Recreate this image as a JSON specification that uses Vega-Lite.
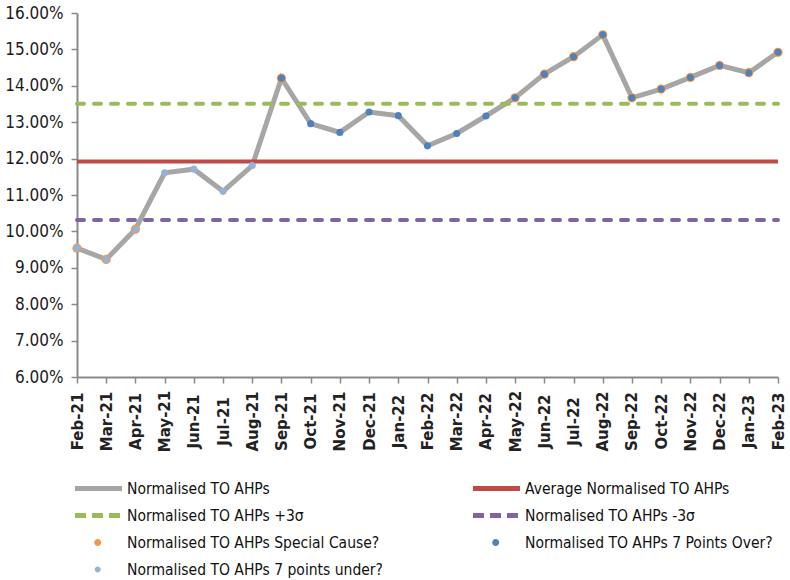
{
  "$schema": "https://vega.github.io/schema/vega-lite/v6.json",
  "width": 701,
  "height": 364,
  "autosize": {"type": "none"},
  "padding": {"left": 77, "top": 13, "right": 12, "bottom": 203},
  "background": "white",
  "config": {"view": {"stroke": null}, "axisY": {"labelOverlap": false, "labelBound": false}},
  "data": {
    "values": [
      {"month": "Feb-21", "value": 0.0954, "avg": 0.1192, "ucl": 0.1351, "lcl": 0.1031, "special": true, "over": false, "under": true},
      {"month": "Mar-21", "value": 0.0923, "avg": 0.1192, "ucl": 0.1351, "lcl": 0.1031, "special": true, "over": false, "under": true},
      {"month": "Apr-21", "value": 0.1006, "avg": 0.1192, "ucl": 0.1351, "lcl": 0.1031, "special": true, "over": false, "under": true},
      {"month": "May-21", "value": 0.1161, "avg": 0.1192, "ucl": 0.1351, "lcl": 0.1031, "special": false, "over": false, "under": true},
      {"month": "Jun-21", "value": 0.1171, "avg": 0.1192, "ucl": 0.1351, "lcl": 0.1031, "special": false, "over": false, "under": true},
      {"month": "Jul-21", "value": 0.1110, "avg": 0.1192, "ucl": 0.1351, "lcl": 0.1031, "special": false, "over": false, "under": true},
      {"month": "Aug-21", "value": 0.1181, "avg": 0.1192, "ucl": 0.1351, "lcl": 0.1031, "special": false, "over": false, "under": true},
      {"month": "Sep-21", "value": 0.1421, "avg": 0.1192, "ucl": 0.1351, "lcl": 0.1031, "special": true, "over": true, "under": false},
      {"month": "Oct-21", "value": 0.1296, "avg": 0.1192, "ucl": 0.1351, "lcl": 0.1031, "special": false, "over": true, "under": false},
      {"month": "Nov-21", "value": 0.1272, "avg": 0.1192, "ucl": 0.1351, "lcl": 0.1031, "special": false, "over": true, "under": false},
      {"month": "Dec-21", "value": 0.1328, "avg": 0.1192, "ucl": 0.1351, "lcl": 0.1031, "special": false, "over": true, "under": false},
      {"month": "Jan-22", "value": 0.1318, "avg": 0.1192, "ucl": 0.1351, "lcl": 0.1031, "special": false, "over": true, "under": false},
      {"month": "Feb-22", "value": 0.1235, "avg": 0.1192, "ucl": 0.1351, "lcl": 0.1031, "special": false, "over": true, "under": false},
      {"month": "Mar-22", "value": 0.1269, "avg": 0.1192, "ucl": 0.1351, "lcl": 0.1031, "special": false, "over": true, "under": false},
      {"month": "Apr-22", "value": 0.1317, "avg": 0.1192, "ucl": 0.1351, "lcl": 0.1031, "special": false, "over": true, "under": false},
      {"month": "May-22", "value": 0.1367, "avg": 0.1192, "ucl": 0.1351, "lcl": 0.1031, "special": true, "over": true, "under": false},
      {"month": "Jun-22", "value": 0.1432, "avg": 0.1192, "ucl": 0.1351, "lcl": 0.1031, "special": true, "over": true, "under": false},
      {"month": "Jul-22", "value": 0.1480, "avg": 0.1192, "ucl": 0.1351, "lcl": 0.1031, "special": true, "over": true, "under": false},
      {"month": "Aug-22", "value": 0.1540, "avg": 0.1192, "ucl": 0.1351, "lcl": 0.1031, "special": true, "over": true, "under": false},
      {"month": "Sep-22", "value": 0.1367, "avg": 0.1192, "ucl": 0.1351, "lcl": 0.1031, "special": true, "over": true, "under": false},
      {"month": "Oct-22", "value": 0.1391, "avg": 0.1192, "ucl": 0.1351, "lcl": 0.1031, "special": true, "over": true, "under": false},
      {"month": "Nov-22", "value": 0.1423, "avg": 0.1192, "ucl": 0.1351, "lcl": 0.1031, "special": true, "over": true, "under": false},
      {"month": "Dec-22", "value": 0.1456, "avg": 0.1192, "ucl": 0.1351, "lcl": 0.1031, "special": true, "over": true, "under": false},
      {"month": "Jan-23", "value": 0.1436, "avg": 0.1192, "ucl": 0.1351, "lcl": 0.1031, "special": true, "over": true, "under": false},
      {"month": "Feb-23", "value": 0.1492, "avg": 0.1192, "ucl": 0.1351, "lcl": 0.1031, "special": true, "over": true, "under": false}
    ]
  },
  "encoding": {
    "x": {
      "field": "month",
      "type": "ordinal",
      "sort": null,
      "scale": {"type": "point", "padding": 0},
      "axis": {
        "title": null,
        "labelAngle": 270,
        "labelAlign": "center",
        "labelBaseline": "middle",
        "labelPadding": 38,
        "labelDx": 1,
        "labelFont": "DejaVu Sans",
        "labelFontWeight": "bold",
        "labelFontSize": 15,
        "labelColor": "#222222",
        "domainColor": "#898989",
        "domainWidth": 2,
        "tickColor": "#898989",
        "tickWidth": 1.5,
        "tickSize": 6,
        "grid": false
      }
    }
  },
  "layer": [
    {
      "mark": {"type": "line", "strokeWidth": 5, "strokeJoin": "miter"},
      "encoding": {
        "y": {
          "field": "value",
          "type": "quantitative",
          "title": null,
          "scale": {"domain": [0.06, 0.16], "nice": false, "zero": false},
          "axis": {
            "title": null,
            "tickCount": 10,
            "format": ".2%",
            "labelOverlap": false,
            "labelSeparation": 0,
            "labelFont": "DejaVu Sans Condensed, Liberation Sans, sans-serif",
            "labelFontSize": 17,
            "labelColor": "#1a1a1a",
            "labelPadding": 8,
            "domainColor": "#898989",
            "domainWidth": 2,
            "tickColor": "#898989",
            "tickWidth": 1.5,
            "tickSize": 6,
            "grid": false
          }
        },
        "color": {
          "datum": "Normalised TO AHPs",
          "scale": {
            "domain": [
              "Normalised TO AHPs",
              "Normalised TO AHPs +3σ",
              "Normalised TO AHPs Special Cause?",
              "Normalised TO AHPs 7 points under?",
              "Average Normalised TO AHPs",
              "Normalised TO AHPs -3σ",
              "Normalised TO AHPs 7 Points Over?"
            ],
            "range": ["#A6A6A6", "#9BBB59", "#F79646", "#95B3D7", "#BE4B48", "#8064A2", "#4F81BD"]
          },
          "legend": {
            "title": null,
            "orient": "none",
            "legendX": -2,
            "legendY": 462,
            "columns": 2,
            "padding": 0,
            "rowPadding": 5,
            "columnPadding": 90,
            "symbolSize": 729,
            "symbolStrokeWidth": 0,
            "labelOffset": 25,
            "labelFont": "DejaVu Sans Condensed, Liberation Sans, sans-serif",
            "labelFontSize": 15.5,
            "labelColor": "#111111",
            "labelLimit": 0,
            "encode": {
              "symbols": {
                "update": {
                  "shape": {"signal": "datum.value === 'Normalised TO AHPs' || datum.value === 'Average Normalised TO AHPs' ? 'M-1,-0.185H2.481V0.185H-1Z' : (indexof(datum.value, 'σ') >= 0 ? 'M-1,-0.185H-0.185V0.185H-1Z M0.259,-0.185H1.074V0.185H0.259Z M1.519,-0.185H2.333V0.185H1.519Z' : (datum.value === 'Normalised TO AHPs 7 points under?' ? 'M0.459,0A0.222,0.222 0 1,1 0.903,0A0.222,0.222 0 1,1 0.459,0Z' : 'M0.422,0A0.259,0.259 0 1,1 0.94,0A0.259,0.259 0 1,1 0.422,0Z'))"},
                  "fill": {"scale": "color", "field": "value"},
                  "stroke": {"value": "transparent"},
                  "strokeWidth": {"value": 0},
                  "opacity": {"value": 1}
                }
              }
            }
          }
        }
      }
    },
    {
      "mark": {"type": "line", "strokeWidth": 4},
      "encoding": {
        "y": {"field": "avg", "type": "quantitative", "title": null},
        "color": {"datum": "Average Normalised TO AHPs"}
      }
    },
    {
      "mark": {"type": "line", "strokeWidth": 4, "strokeDash": [7, 10], "strokeCap": "round"},
      "encoding": {
        "y": {"field": "ucl", "type": "quantitative", "title": null},
        "color": {"datum": "Normalised TO AHPs +3σ"}
      }
    },
    {
      "mark": {"type": "line", "strokeWidth": 4, "strokeDash": [7, 10], "strokeCap": "round"},
      "encoding": {
        "y": {"field": "lcl", "type": "quantitative", "title": null},
        "color": {"datum": "Normalised TO AHPs -3σ"}
      }
    },
    {
      "transform": [{"filter": "datum.special"}],
      "mark": {"type": "point", "filled": true, "opacity": 1, "size": 85, "shape": "circle"},
      "encoding": {
        "y": {"field": "value", "type": "quantitative", "title": null},
        "color": {"datum": "Normalised TO AHPs Special Cause?"}
      }
    },
    {
      "transform": [{"filter": "datum.under"}],
      "mark": {"type": "point", "filled": true, "opacity": 1, "size": 50, "shape": "circle"},
      "encoding": {
        "y": {"field": "value", "type": "quantitative", "title": null},
        "color": {"datum": "Normalised TO AHPs 7 points under?"}
      }
    },
    {
      "transform": [{"filter": "datum.over"}],
      "mark": {"type": "point", "filled": true, "opacity": 1, "size": 50, "shape": "circle"},
      "encoding": {
        "y": {"field": "value", "type": "quantitative", "title": null},
        "color": {"datum": "Normalised TO AHPs 7 Points Over?"}
      }
    }
  ]
}
